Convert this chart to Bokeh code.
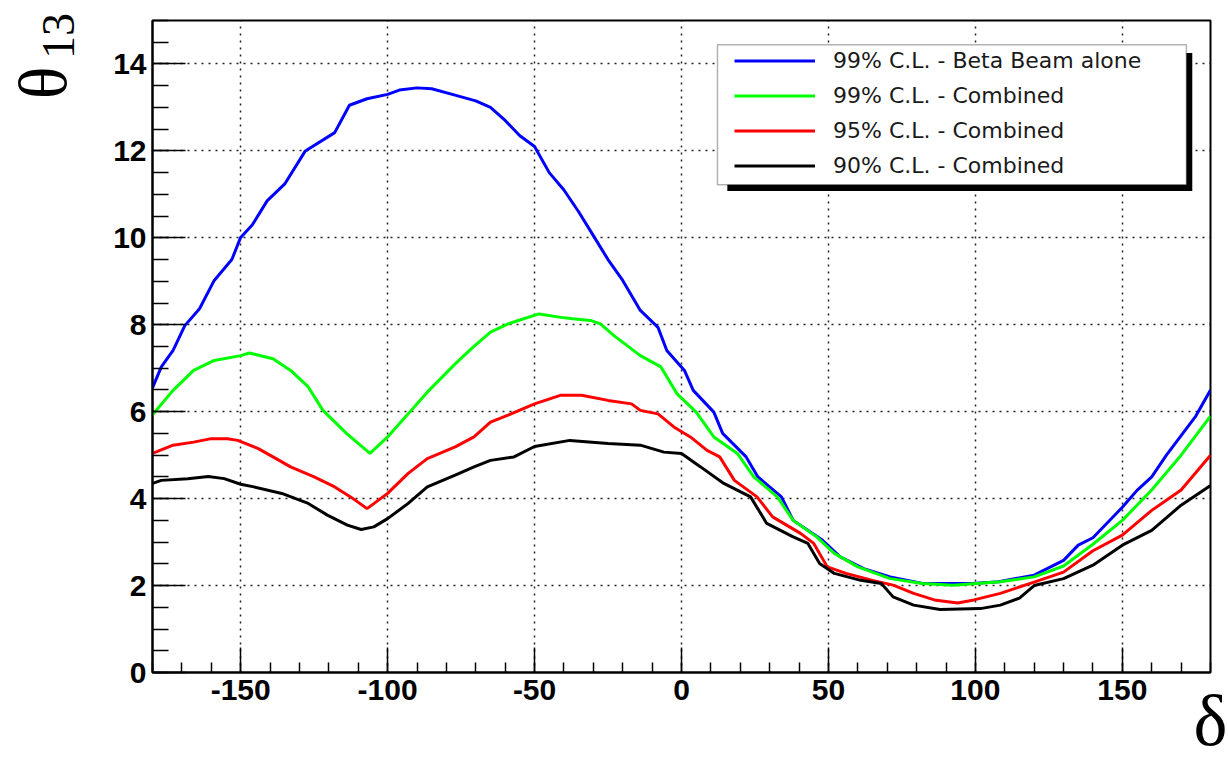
import math
from bokeh.plotting import figure
from bokeh.models import FixedTicker, Legend, LegendItem, BoxAnnotation, LinearAxis
from bokeh.embed import file_html
from bokeh.resources import INLINE

# ---------------- data ----------------
blue_x = [-180, -177, -173, -169, -164, -159, -153, -150, -146, -141, -135, -128, -118, -113, -107,
          -100, -96, -90, -85, -78, -70, -65, -60, -55, -50, -45, -40, -35, -30, -25, -20, -14, -8,
          -5, 1, 4, 11, 14, 22, 26, 34, 38, 48, 54, 62, 71, 82, 99, 108, 120, 130, 135, 140, 150,
          155, 160, 165, 170, 175, 180]
blue_y = [6.55, 7.03, 7.41, 7.98, 8.37, 9.02, 9.5, 10.01, 10.3, 10.85, 11.24, 12.0, 12.42, 13.05, 13.2,
          13.3, 13.4, 13.45, 13.43, 13.3, 13.15, 13.0, 12.7, 12.35, 12.1, 11.5, 11.1, 10.6, 10.05, 9.5,
          9.02, 8.33, 7.94, 7.41, 6.95, 6.49, 5.99, 5.5, 4.96, 4.5, 4.04, 3.5, 3.04, 2.66, 2.39, 2.2,
          2.05, 2.05, 2.09, 2.24, 2.58, 2.93, 3.1, 3.8, 4.19, 4.5, 5.0, 5.45, 5.9, 6.5]

green_x = [-180, -173, -166, -159, -150, -147, -139, -133, -127, -122, -114, -106, -100, -93, -86.5,
           -77, -71, -65, -59, -55, -48.5, -41, -37, -31, -27.6, -23, -14, -7, -1.5, 5, 11, 19, 24.6,
           32.6, 38, 46, 52, 60, 71, 82, 92.5, 108.5, 120, 130, 140, 150, 160, 170, 180]
green_y = [5.93, 6.49, 6.95, 7.18, 7.29, 7.35, 7.22, 6.95, 6.57, 6.03, 5.5, 5.04, 5.42, 5.95, 6.45,
           7.1, 7.48, 7.83, 8.02, 8.11, 8.25, 8.17, 8.14, 8.1, 8.02, 7.75, 7.29, 7.03, 6.41, 5.99, 5.42,
           5.04, 4.5, 4.04, 3.5, 3.12, 2.74, 2.43, 2.16, 2.05, 2.01, 2.09, 2.2, 2.45, 2.95, 3.5, 4.2,
           5.0, 5.9]

red_x = [-180, -173, -166, -160, -154.5, -151, -144, -139, -133, -125, -118, -112.6, -107, -100, -93,
         -86.5, -77, -70.6, -65, -59, -50, -41, -34, -25, -17, -14, -8, -2.6, 3, 8.7, 13, 18, 25.7,
         31, 40.5, 45, 49.6, 56, 65, 72, 79, 86, 94, 99.5, 108.5, 120, 130, 140, 150, 160, 170, 180]
red_y = [5.04, 5.23, 5.3, 5.38, 5.38, 5.34, 5.15, 4.96, 4.73, 4.5, 4.27, 4.04, 3.77, 4.12, 4.58,
         4.92, 5.19, 5.42, 5.76, 5.92, 6.18, 6.38, 6.38, 6.26, 6.18, 6.03, 5.95, 5.65, 5.42, 5.11,
         4.96, 4.42, 4.04, 3.58, 3.2, 2.97, 2.43, 2.28, 2.12, 2.01, 1.82, 1.67, 1.6, 1.67, 1.82,
         2.08, 2.31, 2.8, 3.16, 3.73, 4.2, 5.0]

black_x = [-180, -177, -168, -161, -155.6, -150, -145.5, -136, -127, -120.5, -113.7, -109, -104.7,
           -100, -93, -86.5, -77, -70.6, -65, -57, -50, -38, -25, -14, -6, 0, 6.5, 14.4, 23.5, 29,
           38, 43, 47, 52, 61, 68, 72, 79, 88, 101.7, 108.5, 115, 120, 130, 140, 150, 160, 170, 180]
black_y = [4.35, 4.42, 4.46, 4.51, 4.46, 4.33, 4.27, 4.12, 3.89, 3.62, 3.39, 3.29, 3.35, 3.54, 3.89,
           4.27, 4.54, 4.73, 4.88, 4.96, 5.2, 5.34, 5.27, 5.23, 5.07, 5.04, 4.73, 4.35, 4.04, 3.43,
           3.12, 2.97, 2.51, 2.28, 2.12, 2.05, 1.74, 1.55, 1.45, 1.47, 1.55, 1.71, 2.0, 2.16, 2.47,
           2.93, 3.27, 3.85, 4.3]

series_labels = ["99% C.L. - Beta Beam alone", "99% C.L. - Combined",
                 "95% C.L. - Combined", "90% C.L. - Combined"]
series_colors = ["#0000ff", "#00ff00", "#ff0000", "#000000"]

x_title = "δ"
y_title_main = "θ"
y_title_sub = "13"
x_ticks = [-150, -100, -50, 0, 50, 100, 150]
x_minor = list(range(-180, 181, 10))
y_ticks = [0, 2, 4, 6, 8, 10, 12, 14]
y_minor = [v * 0.5 for v in range(0, 31)]

NBSP = "\u00a0"

# ---------------- figure ----------------
p = figure(width=1228, height=763, output_backend="svg", toolbar_location=None,
           x_range=(-180, 180), y_range=(0, 15), title=None,
           min_border_left=152, min_border_right=18, min_border_top=20, min_border_bottom=90)
p.background_fill_color = "white"
p.border_fill_color = "white"
p.outline_line_color = "black"
p.outline_line_width = 2

for ax in (p.xaxis[0], p.yaxis[0]):
    ax.axis_line_color = "black"
    ax.axis_line_width = 2
    ax.major_tick_line_color = "black"
    ax.minor_tick_line_color = "black"
    ax.major_tick_line_width = 1.5
    ax.minor_tick_line_width = 1.5
    ax.major_tick_out = 0
    ax.minor_tick_out = 0
    ax.major_label_text_font = "Liberation Sans"
    ax.major_label_text_font_style = "bold"
    ax.major_label_text_font_size = "30px"
    ax.major_label_text_color = "black"
    ax.axis_label_text_font = "Liberation Serif"
    ax.axis_label_text_font_style = "normal"
    ax.axis_label_text_color = "black"

p.xaxis.ticker = FixedTicker(ticks=x_ticks, minor_ticks=x_minor)
p.yaxis.ticker = FixedTicker(ticks=y_ticks, minor_ticks=y_minor)
p.xaxis.major_label_overrides = {t: str(t) for t in x_ticks}
p.yaxis.major_label_overrides = {t: str(t) for t in y_ticks}
p.xaxis.major_tick_in = 25
p.xaxis.minor_tick_in = 10
p.yaxis.major_tick_in = 33
p.yaxis.minor_tick_in = 16
p.xaxis.major_label_standoff = 7
p.yaxis.major_label_standoff = 6

# x title (delta) at the right end of the axis
p.xaxis.axis_label = x_title
p.xaxis.axis_label_align = "end"
p.xaxis.axis_label_text_font_size = "72px"
p.xaxis.axis_label_standoff = -22

# y title: subscript "13" on the main axis, theta on an outer, otherwise empty axis.
# Leading no-break spaces push the visible glyphs to the top end of the axis.
p.yaxis.axis_label = NBSP * 54 + y_title_sub
p.yaxis.axis_label_text_font_size = "46px"
p.yaxis.axis_label_standoff = 26

outer = LinearAxis(ticker=FixedTicker(ticks=[]), axis_line_alpha=0,
                   major_tick_in=0, major_tick_out=0, minor_tick_in=0, minor_tick_out=0,
                   major_label_standoff=0,
                   axis_label=NBSP * 31 + y_title_main,
                   axis_label_standoff=-50, axis_label_text_font="Liberation Serif",
                   axis_label_text_font_size="68px", axis_label_text_font_style="normal",
                   axis_label_text_color="black")
p.add_layout(outer, "left")

for g in (p.xgrid[0], p.ygrid[0]):
    g.grid_line_color = "#222222"
    g.grid_line_width = 1.5
    g.grid_line_dash = "2 5"

# ---------------- curves ----------------
xs = [blue_x, green_x, red_x, black_x]
ys = [blue_y, green_y, red_y, black_y]
renderers = []
for x, y, c in zip(xs, ys, series_colors):
    r = p.line(x, y, line_color=c, line_width=3)
    renderers.append(r)

# ---------------- legend with shadow ----------------
shadow = BoxAnnotation(left=15.6, right=173.8, top=14.25, bottom=11.08,
                       fill_color="black", fill_alpha=1.0, line_alpha=0)
box = BoxAnnotation(left=12.24, right=171.8, top=14.44, bottom=11.22,
                    fill_color="white", fill_alpha=1.0, line_color="black", line_width=1.5)
p.add_layout(shadow)
p.add_layout(box)

legend = Legend(items=[LegendItem(label=l, renderers=[r]) for l, r in zip(series_labels, renderers)],
                location="top_right", margin=23, padding=0, spacing=0,
                glyph_width=81, glyph_height=35, label_height=35, label_width=354,
                label_standoff=18, label_text_font="DejaVu Sans", label_text_font_size="22px",
                label_text_color="#1a1a1a", background_fill_alpha=0, border_line_alpha=0)
p.add_layout(legend)

open("out.html", "w").write(file_html(p, INLINE))
